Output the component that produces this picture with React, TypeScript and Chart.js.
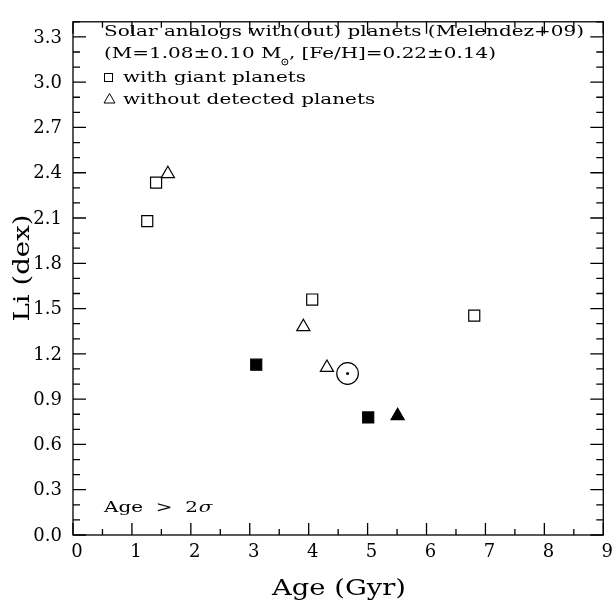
import React, { useEffect, useRef } from "react";
import { Chart, registerables } from "chart.js";
Chart.register(...registerables);

// ---- data (Age in Gyr, Li in dex) ----
const withPlanetsAge = [1.26, 1.41, 4.06, 6.81];
const withPlanetsLi = [2.08, 2.334, 1.56, 1.453];
const withPlanetsOldAge = [3.11, 5.01];
const withPlanetsOldLi = [1.128, 0.779];
const noPlanetsAge = [1.61, 3.91, 4.31];
const noPlanetsLi = [2.393, 1.379, 1.109];
const noPlanetsOldAge = [5.51];
const noPlanetsOldLi = [0.789];
const sunAge = [4.66];
const sunLi = [1.07];

const xTicks = [0, 1, 2, 3, 4, 5, 6, 7, 8, 9];
const yTicks = [0, 0.3, 0.6, 0.9, 1.2, 1.5, 1.8, 2.1, 2.4, 2.7, 3.0, 3.3];

const legendLine1 = "Solar analogs with(out) planets (Melendez+09)";
const legendLine2a = "(M=1.08\u00b10.10 M";
const legendLine2b = ", [Fe/H]=0.22\u00b10.14)";
const legendLine3 = "with giant planets";
const legendLine4 = "without detected planets";
const noteText = "Age  >  2";
const xTitle = "Age (Gyr)";
const yTitle = "Li (dex)";

const SERIF = '"DejaVu Serif", "Liberation Serif", serif';

const pts = (xs: number[], ys: number[]) => xs.map((x, i) => ({ x, y: ys[i] }));

function drawScaled(ctx: CanvasRenderingContext2D, text: string, x: number, y: number, sx: number) {
  ctx.save();
  ctx.translate(x, y);
  ctx.scale(sx, 1);
  ctx.fillText(text, 0, 0);
  ctx.restore();
}

const decorPlugin = {
  id: "decor",
  afterDraw(chart: any) {
    const { ctx, chartArea: a, scales } = chart;
    const xs = scales.x;
    const ys = scales.y;
    ctx.save();
    ctx.strokeStyle = "#000";
    ctx.lineWidth = 1.3;
    ctx.strokeRect(a.left, a.top, a.right - a.left, a.bottom - a.top);
    ctx.beginPath();
    // x ticks (major every 1, minor every 0.5) on bottom and top
    for (let i = 0; i <= 18; i++) {
      const v = i * 0.5;
      const px = xs.getPixelForValue(v);
      const len = i % 2 === 0 ? 12 : 6;
      ctx.moveTo(px, a.bottom);
      ctx.lineTo(px, a.bottom - len);
      ctx.moveTo(px, a.top);
      ctx.lineTo(px, a.top + len);
    }
    // y ticks (major every 0.3, minor every 0.1) on left and right
    for (let i = 0; i <= 34; i++) {
      const v = i * 0.1;
      const py = ys.getPixelForValue(v);
      const len = i % 3 === 0 ? 13 : 7;
      ctx.moveTo(a.left, py);
      ctx.lineTo(a.left + len, py);
      ctx.moveTo(a.right, py);
      ctx.lineTo(a.right - len, py);
    }
    ctx.stroke();

    // legend text
    ctx.fillStyle = "#000";
    ctx.textAlign = "left";
    ctx.textBaseline = "alphabetic";
    ctx.font = `15px ${SERIF}`;
    const sx = 480 / ctx.measureText(legendLine1).width;
    const tx = 104;
    drawScaled(ctx, legendLine1, tx, 35.5, sx);
    drawScaled(ctx, legendLine2a, tx, 58, sx);
    const w2a = ctx.measureText(legendLine2a).width * sx;
    // sun subscript symbol
    const cx = tx + w2a + 3.5;
    ctx.lineWidth = 1;
    ctx.beginPath();
    ctx.arc(cx, 62, 3, 0, Math.PI * 2);
    ctx.stroke();
    ctx.beginPath();
    ctx.arc(cx, 62, 0.8, 0, Math.PI * 2);
    ctx.fill();
    drawScaled(ctx, legendLine2b, cx + 4, 58, sx);
    // square symbol
    ctx.strokeRect(104.5, 73.5, 8, 8);
    drawScaled(ctx, legendLine3, 123, 81.5, sx);
    // triangle symbol
    ctx.beginPath();
    ctx.moveTo(104, 103);
    ctx.lineTo(115, 103);
    ctx.lineTo(109.5, 93.5);
    ctx.closePath();
    ctx.stroke();
    drawScaled(ctx, legendLine4, 123, 103.5, sx);

    // note
    drawScaled(ctx, noteText, 104, 512, sx);
    const wn = ctx.measureText(noteText).width * sx;
    ctx.font = `italic 15px ${SERIF}`;
    drawScaled(ctx, "\u03c3", 104 + wn + 1, 512, sx);

    // axis titles
    ctx.font = `23px ${SERIF}`;
    ctx.textAlign = "center";
    const sxX = 134 / ctx.measureText(xTitle).width;
    drawScaled(ctx, xTitle, 339, 595, sxX);
    const sxY = 107 / ctx.measureText(yTitle).width;
    ctx.save();
    ctx.translate(28.5, 268);
    ctx.rotate(-Math.PI / 2);
    ctx.scale(sxY, 1);
    ctx.fillText(yTitle, 0, 0);
    ctx.restore();
    ctx.restore();
  },
};

export default function App() {
  const ref = useRef<HTMLCanvasElement | null>(null);
  useEffect(() => {
    document.body.style.margin = "0";
    const canvas = ref.current;
    if (!canvas) return;
    const common = { showLine: false, borderColor: "#000", borderWidth: 1.2 };
    const chart = new Chart(canvas, {
      type: "scatter",
      data: {
        datasets: [
          { ...common, data: pts(withPlanetsAge, withPlanetsLi), pointStyle: "rect", pointRadius: 7.8, pointHoverRadius: 7.8, backgroundColor: "rgba(255,255,255,0)" },
          { ...common, data: pts(withPlanetsOldAge, withPlanetsOldLi), pointStyle: "rect", pointRadius: 7.8, pointHoverRadius: 7.8, backgroundColor: "#000" },
          { ...common, data: pts(noPlanetsAge, noPlanetsLi), pointStyle: "triangle", pointRadius: 7.6, pointHoverRadius: 7.6, backgroundColor: "rgba(255,255,255,0)" },
          { ...common, data: pts(noPlanetsOldAge, noPlanetsOldLi), pointStyle: "triangle", pointRadius: 7.6, pointHoverRadius: 7.6, backgroundColor: "#000" },
          { ...common, data: pts(sunAge, sunLi), pointStyle: "circle", pointRadius: 10.8, pointHoverRadius: 10.8, backgroundColor: "rgba(255,255,255,0)" },
          { ...common, data: pts(sunAge, sunLi), pointStyle: "circle", pointRadius: 1.5, pointHoverRadius: 1.5, borderWidth: 0, backgroundColor: "#000" },
        ] as any,
      },
      options: {
        animation: false,
        responsive: false,
        devicePixelRatio: 1,
        events: [],
        layout: { padding: { left: 0, top: 3, right: 10, bottom: 0 } },
        plugins: { legend: { display: false }, tooltip: { enabled: false }, title: { display: false } },
        scales: {
          x: {
            type: "linear",
            min: 0,
            max: 9,
            grid: { display: false, drawTicks: false },
            border: { display: false },
            afterBuildTicks: (s: any) => { s.ticks = xTicks.map((v) => ({ value: v })); },
            afterFit: (s: any) => { s.height = 74; },
            ticks: {
              color: "#000",
              font: { family: SERIF, size: 18 },
              padding: 7,
              labelOffset: 4,
              maxRotation: 0,
              autoSkip: false,
              callback: (v: any) => String(v),
            },
          },
          y: {
            type: "linear",
            min: 0,
            max: 3.4,
            grid: { display: false, drawTicks: false },
            border: { display: false },
            afterBuildTicks: (s: any) => { s.ticks = yTicks.map((v) => ({ value: v })); },
            afterFit: (s: any) => { s.width = 73; },
            ticks: {
              color: "#000",
              font: { family: SERIF, size: 18 },
              padding: 11,
              labelOffset: 1,
              autoSkip: false,
              callback: (v: any) => Number(v).toFixed(1),
            },
          },
        },
      } as any,
      plugins: [decorPlugin],
    });
    return () => chart.destroy();
  }, []);
  return <canvas ref={ref} width={616} height={609} style={{ display: "block" }} />;
}
